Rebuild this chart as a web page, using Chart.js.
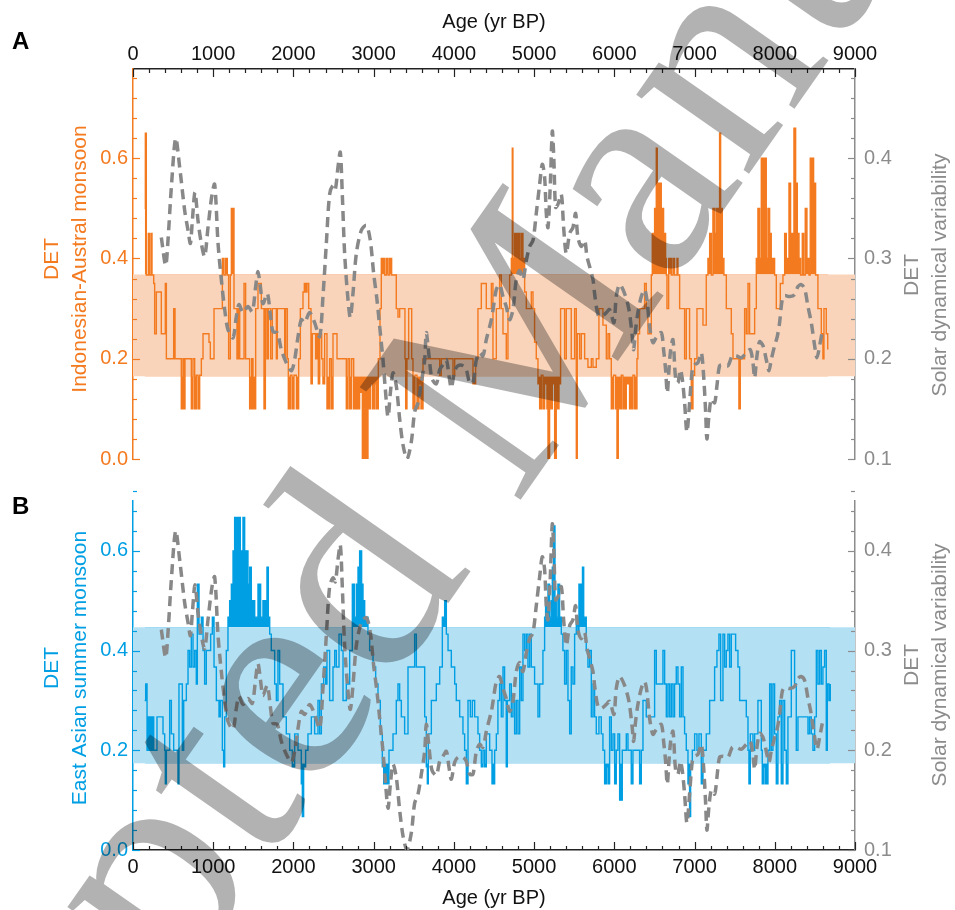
<!DOCTYPE html>
<html>
<head>
<meta charset="utf-8">
<title>DET monsoon vs solar</title>
<script src="https://cdn.jsdelivr.net/npm/chart.js@4.4.1/dist/chart.umd.min.js"></script>
<style>
  html, body { margin: 0; padding: 0; background: #fff; }
  #wrap { position: relative; width: 955px; height: 910px; }
  canvas { position: absolute; left: 0; display: block; }
  #chartA { top: 0; }
  #chartB { top: 480px; }
</style>
</head>
<body>
<div id="wrap">
  <canvas id="chartA" width="955" height="480"></canvas>
  <canvas id="chartB" width="955" height="430"></canvas>
</div>
<script>
// tick labels
const ageTicks = [0, 1000, 2000, 3000, 4000, 5000, 6000, 7000, 8000, 9000];
const detTicks = [0.0, 0.2, 0.4, 0.6];
const solarTicks = [0.1, 0.2, 0.3, 0.4];

// shaded bands (DET range)
const iamBand = [0.165, 0.368];
const easmBand = [0.174, 0.447];

// Indonesian-Austral monsoon DET, [age yr BP, DET] (step series)
const iamDet = [
  [145,0.5],[154,0.65],[166,0.367],[191,0.45],[204,0.367],[224,0.45],[237,0.367],[258,0.35],[270,0.25],[291,0.333],
  [353,0.25],[403,0.35],[416,0.2],[507,0.3],[524,0.2],[602,0.1],[623,0.2],[632,0.1],[648,0.2],[727,0.1],
  [748,0.2],[769,0.1],[789,0.167],[810,0.1],[831,0.167],[852,0.2],[873,0.25],[947,0.233],[964,0.2],[1010,0.3],
  [1114,0.4],[1134,0.367],[1155,0.4],[1176,0.367],[1192,0.2],[1213,0.367],[1226,0.5],[1259,0.3],[1296,0.2],[1313,0.3],
  [1330,0.2],[1384,0.35],[1404,0.2],[1454,0.1],[1479,0.2],[1496,0.1],[1529,0.3],[1558,0.35],[1600,0.3],[1633,0.1],
  [1650,0.3],[1670,0.2],[1687,0.3],[1716,0.2],[1737,0.3],[1787,0.2],[1799,0.3],[1891,0.2],[1903,0.3],[1924,0.2],
  [1936,0.1],[1961,0.167],[1982,0.1],[2007,0.167],[2036,0.1],[2065,0.2],[2086,0.3],[2119,0.333],[2136,0.35],[2152,0.333],
  [2169,0.35],[2190,0.3],[2219,0.15],[2235,0.25],[2277,0.2],[2294,0.25],[2310,0.15],[2327,0.25],[2352,0.2],[2368,0.15],
  [2389,0.25],[2418,0.1],[2451,0.2],[2472,0.1],[2493,0.25],[2543,0.2],[2659,0.1],[2680,0.2],[2701,0.1],[2726,0.2],
  [2751,0.1],[2776,0.15],[2792,0.1],[2825,0.133],[2859,0],[2879,0.1],[2896,0],[2929,0.1],[2958,0.15],[2983,0.1],
  [3012,0.15],[3033,0.1],[3058,0.2],[3079,0.3],[3095,0.4],[3137,0.367],[3158,0.4],[3179,0.367],[3199,0.4],[3224,0.367],
  [3282,0.3],[3303,0.283],[3324,0.3],[3390,0.2],[3399,0.1],[3415,0.2],[3436,0.3],[3474,0.2],[3490,0.1],[3515,0.167],
  [3540,0.1],[3565,0.15],[3590,0.1],[3615,0.2],[3823,0.167],[3843,0.2],[3989,0.167],[4010,0.2],[4238,0.15],[4271,0.2],
  [4300,0.3],[4342,0.35],[4404,0.3],[4467,0.35],[4487,0.2],[4529,0.3],[4570,0.367],[4591,0.3],[4612,0.25],[4653,0.2],
  [4674,0.3],[4695,0.367],[4716,0.4],[4728,0.62],[4736,0.4],[4757,0.45],[4820,0.4],[4840,0.45],[4861,0.4],[4882,0.333],
  [4903,0.3],[4965,0.333],[4986,0.3],[5006,0.233],[5027,0.2],[5048,0.15],[5069,0.1],[5090,0.167],[5110,0.1],[5131,0.15],
  [5160,0.1],[5173,0],[5193,0.1],[5227,0.15],[5256,0],[5276,0.1],[5310,0.15],[5330,0.3],[5380,0.2],[5401,0.3],
  [5463,0.2],[5505,0.3],[5526,0],[5538,0.25],[5567,0.2],[5588,0.25],[5630,0.2],[5671,0.183],[5713,0.2],[5734,0.183],
  [5775,0.2],[5808,0.3],[5858,0.267],[5900,0.2],[5921,0.25],[5941,0.2],[5962,0.1],[5991,0.167],[6016,0.1],[6033,0],
  [6049,0.1],[6087,0.167],[6107,0.1],[6149,0.15],[6190,0.1],[6232,0.167],[6253,0.1],[6282,0.2],[6294,0.25],[6315,0.3],
  [6377,0.35],[6398,0.3],[6419,0.25],[6461,0.367],[6473,0.45],[6502,0.5],[6523,0.62],[6535,0.55],[6585,0.5],[6614,0.45],
  [6639,0.4],[6648,0.367],[6656,0.3],[6677,0.4],[6710,0.367],[6731,0.4],[6751,0.367],[6781,0.4],[6793,0.367],[6814,0.3],
  [6876,0.2],[6897,0.3],[6938,0.2],[6959,0.1],[6980,0.167],[7001,0.2],[7030,0.3],[7105,0.267],[7146,0.367],[7167,0.4],
  [7188,0.45],[7209,0.367],[7229,0.5],[7250,0.45],[7271,0.5],[7312,0.65],[7325,0.5],[7346,0.4],[7366,0.367],[7396,0.3],
  [7458,0.25],[7479,0.2],[7553,0.1],[7570,0.2],[7624,0.3],[7645,0.25],[7666,0.35],[7686,0.25],[7749,0.3],[7770,0.4],
  [7790,0.5],[7811,0.4],[7832,0.6],[7894,0.4],[7915,0.5],[7936,0.45],[7956,0.4],[7998,0.367],[8019,0.3],[8069,0.35],
  [8102,0.367],[8123,0.45],[8144,0.4],[8177,0.55],[8197,0.45],[8239,0.66],[8260,0.55],[8281,0.45],[8302,0.4],[8322,0.367],
  [8343,0.45],[8360,0.367],[8380,0.5],[8401,0.4],[8426,0.367],[8442,0.6],[8484,0.55],[8509,0.367],[8538,0.3],[8580,0.25],
  [8600,0.2],[8613,0.3],[8642,0.25],[8660,0.22],[8670,0.22]
];

// East Asian summer monsoon DET, [age yr BP, DET] (step series)
const easmDet = [
  [145,0.3],[158,0.333],[175,0.2],[187,0.267],[199,0.2],[216,0.267],[229,0.2],[241,0.267],[258,0.2],[299,0.267],
  [374,0.233],[395,0.2],[403,0.133],[416,0.2],[457,0.3],[478,0.233],[507,0.2],[561,0.133],[573,0.333],[615,0.2],
  [632,0.3],[665,0.333],[686,0.4],[706,0.367],[727,0.433],[748,0.367],[769,0.4],[789,0.333],[802,0.533],[823,0.433],
  [852,0.467],[873,0.4],[893,0.333],[914,0.4],[968,0.433],[989,0.467],[1010,0.367],[1039,0.3],[1072,0.267],[1089,0.3],
  [1114,0.2],[1130,0.167],[1143,0.267],[1163,0.4],[1184,0.467],[1205,0.5],[1226,0.533],[1247,0.6],[1267,0.667],[1338,0.6],
  [1355,0.533],[1371,0.667],[1392,0.6],[1433,0.533],[1454,0.567],[1475,0.5],[1517,0.467],[1558,0.533],[1591,0.467],[1620,0.5],
  [1654,0.467],[1670,0.567],[1687,0.467],[1704,0.433],[1724,0.4],[1766,0.333],[1787,0.3],[1807,0.4],[1828,0.333],[1870,0.267],
  [1911,0.233],[1953,0.2],[1986,0.167],[2015,0.233],[2057,0.2],[2098,0.133],[2111,0.067],[2127,0.167],[2152,0.2],[2181,0.233],
  [2223,0.267],[2264,0.233],[2306,0.3],[2327,0.233],[2348,0.333],[2377,0.367],[2402,0.333],[2418,0.4],[2451,0.3],[2493,0.367],
  [2514,0.4],[2535,0.367],[2568,0.433],[2597,0.4],[2618,0.3],[2659,0.333],[2701,0.4],[2734,0.533],[2759,0.467],[2784,0.533],
  [2805,0.567],[2825,0.6],[2850,0.533],[2867,0.5],[2888,0.467],[2929,0.433],[2950,0.4],[2992,0.367],[3025,0.333],[3054,0.3],
  [3083,0.233],[3108,0.167],[3125,0.133],[3149,0.167],[3166,0.133],[3191,0.2],[3241,0.233],[3282,0.3],[3303,0.333],[3324,0.3],
  [3345,0.267],[3386,0.233],[3428,0.367],[3511,0.433],[3532,0.367],[3636,0.267],[3656,0.167],[3669,0.133],[3681,0.233],[3719,0.3],
  [3781,0.333],[3823,0.367],[3856,0.467],[3885,0.5],[3906,0.433],[3927,0.4],[3968,0.367],[4010,0.333],[4030,0.3],[4072,0.267],
  [4113,0.233],[4134,0.2],[4155,0.133],[4176,0.3],[4205,0.267],[4230,0.3],[4259,0.267],[4300,0.233],[4321,0.2],[4342,0.167],
  [4363,0.2],[4384,0.167],[4404,0.233],[4446,0.2],[4475,0.133],[4508,0.2],[4529,0.233],[4549,0.3],[4570,0.333],[4591,0.267],
  [4612,0.367],[4632,0.3],[4653,0.167],[4666,0.3],[4695,0.333],[4716,0.267],[4736,0.3],[4757,0.233],[4778,0.3],[4799,0.233],
  [4820,0.367],[4840,0.3],[4861,0.433],[4882,0.4],[4903,0.433],[4923,0.367],[4944,0.433],[4965,0.367],[5006,0.333],[5048,0.267],
  [5069,0.333],[5110,0.4],[5131,0.467],[5143,0.5],[5160,0.467],[5173,0.533],[5193,0.467],[5214,0.5],[5227,0.567],[5243,0.65],
  [5260,0.5],[5276,0.467],[5297,0.533],[5318,0.467],[5339,0.433],[5359,0.4],[5380,0.333],[5401,0.4],[5422,0.3],[5443,0.233],
  [5463,0.367],[5484,0.333],[5505,0.433],[5526,0.467],[5546,0.433],[5559,0.533],[5576,0.467],[5592,0.533],[5603,0.567],[5618,0.467],
  [5650,0.4],[5671,0.367],[5692,0.4],[5713,0.267],[5734,0.333],[5754,0.267],[5775,0.233],[5808,0.267],[5837,0.233],[5858,0.2],
  [5879,0.133],[5900,0.167],[5921,0.133],[5941,0.267],[5962,0.2],[5983,0.233],[6004,0.133],[6024,0.2],[6045,0.233],[6066,0.1],
  [6099,0.2],[6149,0.233],[6170,0.2],[6211,0.133],[6232,0.2],[6315,0.133],[6336,0.2],[6357,0.3],[6398,0.267],[6502,0.4],
  [6523,0.333],[6606,0.4],[6627,0.333],[6648,0.267],[6668,0.333],[6689,0.267],[6710,0.333],[6731,0.267],[6751,0.333],[6772,0.367],
  [6793,0.333],[6814,0.267],[6835,0.367],[6856,0.267],[6876,0.233],[6897,0.2],[6918,0.133],[6938,0.067],[6951,0.167],[6972,0.2],
  [7001,0.233],[7030,0.2],[7055,0.233],[7084,0.133],[7105,0.2],[7146,0.233],[7188,0.3],[7250,0.367],[7279,0.4],[7304,0.433],
  [7325,0.3],[7354,0.433],[7375,0.367],[7396,0.4],[7416,0.433],[7437,0.367],[7458,0.433],[7512,0.4],[7541,0.367],[7562,0.3],
  [7645,0.267],[7666,0.2],[7678,0.133],[7695,0.233],[7728,0.2],[7749,0.233],[7790,0.3],[7832,0.2],[7844,0.133],[7865,0.167],
  [7886,0.133],[7915,0.2],[7936,0.333],[7956,0.2],[7977,0.333],[7998,0.233],[8019,0.133],[8039,0.267],[8060,0.3],[8081,0.133],
  [8102,0.3],[8123,0.2],[8144,0.133],[8164,0.267],[8206,0.4],[8247,0.333],[8268,0.2],[8289,0.267],[8414,0.233],[8434,0.267],
  [8455,0.233],[8476,0.2],[8497,0.267],[8518,0.4],[8538,0.333],[8559,0.4],[8580,0.333],[8600,0.367],[8621,0.4],[8642,0.2],
  [8655,0.333],[8675,0.3],[8692,0.333]
];

// Solar dynamical variability DET, [age yr BP, DET]
const solarDet = [
  [353,0.321],[407,0.293],[436,0.318],[478,0.371],[532,0.420],[582,0.391],[644,0.348],[686,0.328],[715,0.315],[740,0.338],
  [773,0.366],[810,0.338],[852,0.315],[893,0.302],[935,0.331],[985,0.364],[1018,0.374],[1060,0.315],[1101,0.279],[1143,0.249],
  [1184,0.229],[1247,0.221],[1288,0.242],[1321,0.254],[1371,0.246],[1433,0.252],[1487,0.247],[1529,0.272],[1558,0.287],[1587,0.272],
  [1620,0.255],[1674,0.265],[1712,0.244],[1745,0.227],[1799,0.226],[1849,0.209],[1911,0.196],[1974,0.188],[2015,0.199],[2057,0.222],
  [2098,0.239],[2140,0.236],[2202,0.246],[2264,0.236],[2327,0.222],[2368,0.262],[2410,0.315],[2451,0.364],[2493,0.373],[2522,0.369],
  [2555,0.391],[2584,0.406],[2609,0.364],[2638,0.305],[2680,0.259],[2709,0.241],[2742,0.265],[2784,0.305],[2846,0.328],[2909,0.333],
  [2958,0.318],[3000,0.285],[3041,0.259],[3075,0.232],[3116,0.199],[3145,0.170],[3179,0.142],[3208,0.166],[3241,0.186],[3282,0.173],
  [3324,0.140],[3366,0.114],[3415,0.100],[3469,0.117],[3511,0.147],[3553,0.156],[3594,0.176],[3636,0.199],[3656,0.226],[3690,0.203],
  [3727,0.180],[3781,0.175],[3823,0.189],[3864,0.194],[3906,0.199],[3939,0.183],[3968,0.171],[4010,0.188],[4051,0.193],[4113,0.193],
  [4155,0.189],[4197,0.176],[4238,0.176],[4280,0.199],[4321,0.206],[4363,0.203],[4404,0.219],[4467,0.239],[4490,0.250],[4529,0.269],
  [4570,0.274],[4612,0.262],[4653,0.252],[4695,0.239],[4736,0.249],[4778,0.279],[4820,0.288],[4861,0.279],[4903,0.298],[4944,0.312],
  [4986,0.318],[5027,0.345],[5069,0.374],[5102,0.394],[5131,0.381],[5152,0.345],[5173,0.331],[5202,0.374],[5227,0.427],[5247,0.397],
  [5268,0.351],[5297,0.354],[5339,0.364],[5368,0.331],[5401,0.305],[5443,0.325],[5484,0.331],[5517,0.345],[5546,0.321],[5588,0.312],
  [5630,0.318],[5659,0.302],[5692,0.292],[5734,0.279],[5754,0.265],[5796,0.244],[5837,0.242],[5900,0.246],[5941,0.249],[5995,0.236],
  [6024,0.262],[6066,0.274],[6128,0.265],[6182,0.249],[6224,0.222],[6240,0.209],[6265,0.229],[6294,0.246],[6336,0.262],[6377,0.269],
  [6406,0.259],[6440,0.232],[6481,0.216],[6523,0.221],[6585,0.226],[6614,0.209],[6639,0.189],[6660,0.166],[6681,0.189],[6702,0.209],
  [6731,0.219],[6764,0.180],[6793,0.176],[6822,0.189],[6847,0.180],[6876,0.156],[6905,0.127],[6938,0.156],[6972,0.189],[7001,0.194],
  [7042,0.196],[7084,0.206],[7113,0.183],[7138,0.147],[7154,0.120],[7179,0.143],[7209,0.160],[7250,0.156],[7279,0.173],[7312,0.193],
  [7354,0.194],[7416,0.193],[7470,0.203],[7520,0.203],[7583,0.201],[7645,0.206],[7695,0.209],[7728,0.196],[7749,0.181],[7778,0.203],
  [7811,0.217],[7853,0.213],[7894,0.199],[7927,0.188],[7956,0.199],[7998,0.213],[8031,0.222],[8060,0.236],[8093,0.259],[8123,0.263],
  [8185,0.262],[8247,0.264],[8289,0.272],[8330,0.274],[8372,0.270],[8414,0.252],[8455,0.236],[8497,0.213],[8526,0.201],[8559,0.213],
  [8592,0.227]
];

const SANS = '"Liberation Sans", Arial, Helvetica, sans-serif';
const ORANGE = '#F47A20';
const ORANGE_BAND = '#F9D4BA';
const BLUE = '#009FE3';
const BLUE_BAND = '#B4E0F4';
const GREY = '#888888';
const AXIS_GREY = '#8C8C8C';
const NONE = 'rgba(0,0,0,0)';

Chart.defaults.font.family = SANS;
Chart.defaults.font.size = 20;

const toXY = arr => arr.map(p => ({ x: p[0], y: p[1] }));
const fixedTicks = list => scale => { scale.ticks = list.map(v => ({ value: v })); };

// inward tick marks, y-axis titles and panel letter
const axisDecor = {
  id: 'axisDecor',
  afterDraw(chart, args, opts) {
    const ctx = chart.ctx;
    const area = chart.chartArea;
    ctx.save();
    ctx.lineWidth = 1.2;
    opts.ticks.forEach(t => {
      const s = chart.scales[t.axis];
      ctx.strokeStyle = t.color;
      const n = Math.round((t.to - t.from) / t.step);
      for (let i = 0; i <= n; i++) {
        const v = t.from + i * t.step;
        const r = v / t.major;
        const isMajor = Math.abs(r - Math.round(r)) < 1e-6;
        const len = isMajor ? 7 : 4;
        const p = Math.round(s.getPixelForValue(v)) + 0.5;
        ctx.beginPath();
        if (t.side === 'top') { ctx.moveTo(p, area.top); ctx.lineTo(p, area.top + len + (isMajor ? 1 : 0)); }
        if (t.side === 'bottom') { ctx.moveTo(p, area.bottom); ctx.lineTo(p, area.bottom - len - (isMajor ? 1 : 0)); }
        if (t.side === 'left') { ctx.moveTo(area.left, p); ctx.lineTo(area.left + len, p); }
        if (t.side === 'right') { ctx.moveTo(area.right, p); ctx.lineTo(area.right - len, p); }
        ctx.stroke();
      }
    });
    ctx.font = '21px ' + SANS;
    ctx.textAlign = 'center';
    ctx.textBaseline = 'middle';
    opts.titles.forEach(t => {
      ctx.save();
      ctx.translate(t.x, t.y);
      ctx.rotate(-Math.PI / 2);
      ctx.fillStyle = t.color;
      ctx.fillText(t.text, 0, 0);
      ctx.restore();
    });
    ctx.font = 'bold 24px ' + SANS;
    ctx.textAlign = 'left';
    ctx.fillStyle = '#000';
    ctx.fillText(opts.letter.text, opts.letter.x, opts.letter.y);
    ctx.restore();
  }
};

const whiteBg = {
  id: 'whiteBg',
  beforeDraw(chart) {
    const ctx = chart.ctx;
    ctx.save();
    ctx.fillStyle = '#fff';
    ctx.fillRect(0, 0, chart.width, chart.height);
    ctx.restore();
  }
};

// "Accepted Manuscript" stamp across the page; anchored at the top-left of the "M"
const WM = { x: 353, y: 393, angle: 55, size: 300 };
const watermark = {
  id: 'watermark',
  afterDraw(chart, args, opts) {
    const ctx = chart.ctx;
    ctx.save();
    ctx.globalCompositeOperation = 'multiply';
    ctx.fillStyle = 'rgb(178,178,178)';
    ctx.font = WM.size + 'px "Liberation Serif", "Times New Roman", serif';
    const u = ctx.measureText('Accepted ').width;
    const v = -0.662 * WM.size;
    const th = WM.angle * Math.PI / 180;
    const ox = WM.x - (u * Math.cos(th) + v * Math.sin(th));
    const oy = WM.y - (-u * Math.sin(th) + v * Math.cos(th));
    ctx.translate(ox, oy - opts.offsetY);
    ctx.rotate(-th);
    ctx.textBaseline = 'alphabetic';
    ctx.fillText('Accepted Manuscript', 0, 0);
    ctx.restore();
  }
};

function panel(canvasId, p) {
  const monsoon = toXY(p.series);
  return new Chart(document.getElementById(canvasId), {
    type: 'line',
    data: {
      datasets: [
        {
          data: toXY(solarDet), yAxisID: 'yR', order: 0,
          borderColor: GREY, borderWidth: 3.5, borderDash: [10, 6],
          pointRadius: 0, tension: 0.3, fill: false
        },
        {
          data: monsoon, yAxisID: 'yL', order: 1, stepped: true,
          borderColor: p.color, borderWidth: 1.4, pointRadius: 0,
          fill: { target: { value: p.band[1] }, above: p.color, below: NONE }
        },
        {
          data: monsoon, yAxisID: 'yL', order: 2, stepped: true,
          borderWidth: 0, borderColor: NONE, pointRadius: 0,
          fill: { target: { value: p.band[0] }, above: NONE, below: p.color }
        },
        {
          data: [{ x: 0, y: p.band[1] }, { x: 9000, y: p.band[1] }], yAxisID: 'yL', order: 3,
          borderWidth: 0, borderColor: NONE, pointRadius: 0, backgroundColor: p.bandColor, fill: '+1'
        },
        {
          data: [{ x: 0, y: p.band[0] }, { x: 9000, y: p.band[0] }], yAxisID: 'yL', order: 4,
          borderWidth: 0, borderColor: NONE, pointRadius: 0, fill: false
        }
      ]
    },
    options: {
      responsive: false,
      animation: false,
      events: [],
      layout: { padding: p.padding },
      plugins: {
        legend: { display: false },
        tooltip: { enabled: false },
        axisDecor: {
          ticks: [
            { axis: 'x', side: p.xPos, from: 0, to: 9000, step: 200, major: 1000, color: '#222' },
            { axis: 'yL', side: 'left', from: 0, to: p.detMax, step: 0.04, major: 0.2, color: p.color },
            { axis: 'yR', side: 'right', from: 0.1, to: p.solarMax, step: 0.02, major: 0.1, color: AXIS_GREY }
          ],
          titles: [
            { text: 'DET', x: 52, y: p.leftY, color: p.color },
            { text: p.name, x: 80, y: p.leftY, color: p.color },
            { text: 'DET', x: 912, y: p.rightY, color: AXIS_GREY },
            { text: 'Solar dynamical variability', x: 940, y: p.rightY, color: AXIS_GREY }
          ],
          letter: p.letter
        },
        watermark: { offsetY: p.offsetY }
      },
      scales: {
        x: {
          type: 'linear', position: p.xPos, min: 0, max: 9000,
          afterBuildTicks: fixedTicks(ageTicks),
          afterFit: s => { s.height = p.xHeight; },
          ticks: { color: '#111', padding: p.xPad, autoSkip: false, maxRotation: 0, callback: v => String(v) },
          grid: { display: false, drawTicks: false },
          border: { display: true, color: '#222', width: 1.5 },
          title: { display: true, text: 'Age (yr BP)', color: '#111', padding: p.titlePad }
        },
        yL: {
          type: 'linear', position: 'left', min: 0, max: p.detMax, bounds: 'data',
          afterBuildTicks: fixedTicks(detTicks),
          afterFit: s => { s.width = 133; },
          ticks: { color: p.color, padding: 5, autoSkip: false, callback: v => v.toFixed(1) },
          grid: { display: false, drawTicks: false },
          border: { display: true, color: p.color, width: 1.5 }
        },
        yR: {
          type: 'linear', position: 'right', min: 0.1, max: p.solarMax, bounds: 'data',
          afterBuildTicks: fixedTicks(solarTicks),
          afterFit: s => { s.width = 100; },
          ticks: { color: AXIS_GREY, padding: 9, autoSkip: false, callback: v => v.toFixed(1) },
          grid: { display: false, drawTicks: false },
          border: { display: true, color: AXIS_GREY, width: 1.5 }
        }
      }
    },
    plugins: [whiteBg, axisDecor, watermark]
  });
}

panel('chartA', {
  series: iamDet, band: iamBand, color: ORANGE, bandColor: ORANGE_BAND,
  name: 'Indonesian-Austral monsoon', detMax: 0.778, solarMax: 0.489,
  xPos: 'top', xHeight: 69, xPad: 3, titlePad: { top: 10, bottom: 0 },
  padding: { top: 0, bottom: 18, left: 0, right: 0 },
  leftY: 259, rightY: 275, letter: { text: 'A', x: 12, y: 42 }, offsetY: 0
});

panel('chartB', {
  series: easmDet, band: easmBand, color: BLUE, bandColor: BLUE_BAND,
  name: 'East Asian summer monsoon', detMax: 0.70, solarMax: 0.45,
  xPos: 'bottom', xHeight: 60, xPad: 5, titlePad: { top: 0, bottom: 0 },
  padding: { top: 15, bottom: 0, left: 0, right: 0 },
  leftY: 188, rightY: 185, letter: { text: 'B', x: 12, y: 27 }, offsetY: 480
});
</script>
</body>
</html>
